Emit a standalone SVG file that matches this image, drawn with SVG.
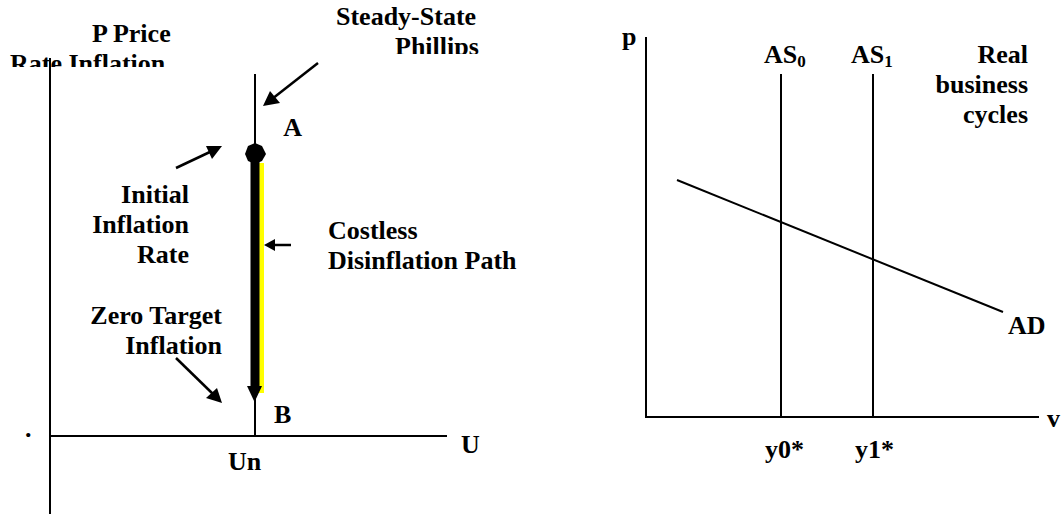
<svg xmlns="http://www.w3.org/2000/svg" width="1063" height="518" viewBox="0 0 1063 518">
<style>
text{font-family:"Liberation Serif","Times New Roman",serif;font-weight:bold;font-size:26px;fill:#000}
.ax{stroke:#000;stroke-width:2;fill:none}
.arr{stroke:#000;stroke-width:2.5;fill:none;marker-end:url(#ah)}
.sub{font-size:17px}
</style>
<defs>
<marker id="ah" markerWidth="8" markerHeight="8" refX="7" refY="4" orient="auto" markerUnits="userSpaceOnUse" viewBox="0 0 8 8">
</marker>
<clipPath id="c1"><rect x="0" y="0" width="240" height="67"/></clipPath>
<clipPath id="c2"><rect x="300" y="0" width="300" height="54"/></clipPath>
</defs>
<rect width="1063" height="518" fill="#fff"/>

<g id="left-chart">
<g id="left-labels">
<text x="92" y="42">P Price</text>
<text x="10" y="72" clip-path="url(#c1)">Rate Inflation</text>
<text x="336" y="25">Steady-State</text>
<text x="395" y="55" clip-path="url(#c2)">Phillips</text>
<text x="302" y="136" font-size="18" text-anchor="end">A</text>
<text x="189" y="203" text-anchor="end">Initial</text>
<text x="189" y="233" text-anchor="end">Inflation</text>
<text x="189" y="263" text-anchor="end">Rate</text>
<text x="328" y="239">Costless</text>
<text x="328" y="269">Disinflation Path</text>
<text x="222" y="324" text-anchor="end">Zero Target</text>
<text x="222" y="354" text-anchor="end">Inflation</text>
<text x="274" y="423">B</text>
<text x="461" y="453">U</text>
<text x="228" y="470">Un</text>
<text x="25" y="437">.</text>
</g>
<g id="left-axes">
<line class="ax" x1="50" y1="58" x2="50" y2="514"/>
<line class="ax" x1="49" y1="436" x2="447" y2="436"/>
<line class="ax" x1="255" y1="74" x2="255" y2="436"/>
</g>
<g id="disinflation-path">
<rect x="256" y="163" width="8" height="230" fill="#ffff00"/>
<rect x="250.5" y="154" width="9" height="234" fill="#000"/>
<polygon points="247,386 262,386 254.5,402" fill="#000"/>
<polygon points="255,143 262,146 266,154 262,161 255,164 248,161 245,154 248,146" fill="#000"/>
</g>
</g>

<g id="connectors">
<line x1="318" y1="63" x2="272" y2="99" stroke="#000" stroke-width="2.5"/>
<polygon points="263,106 270,91 280,103" fill="#000"/>
<line x1="176" y1="168" x2="212" y2="151" stroke="#000" stroke-width="2.5"/>
<polygon points="222,146 206,146 212,159" fill="#000"/>
<line x1="291" y1="245" x2="272" y2="245" stroke="#000" stroke-width="2.5"/>
<polygon points="264,245 275,239 275,251" fill="#000"/>
<line x1="176" y1="358" x2="214" y2="395" stroke="#000" stroke-width="2.5"/>
<polygon points="222,403 206,398 217,388" fill="#000"/>
</g>

<g id="right-chart">
<g id="right-axes">
<line class="ax" x1="646" y1="37" x2="646" y2="418"/>
<line class="ax" x1="645" y1="417" x2="1039" y2="417"/>
<line class="ax" x1="781" y1="74" x2="781" y2="417"/>
<line class="ax" x1="873" y1="74" x2="873" y2="417"/>
<line class="ax" x1="677" y1="180" x2="1003" y2="312"/>
</g>
<g id="right-labels">
<text x="622" y="45">p</text>
<text x="764" y="63">AS<tspan class="sub" dy="4">0</tspan></text>
<text x="851" y="63">AS<tspan class="sub" dy="4">1</tspan></text>
<text x="1028" y="63" text-anchor="end">Real</text>
<text x="1028" y="93" text-anchor="end">business</text>
<text x="1028" y="123" text-anchor="end">cycles</text>
<text x="1008" y="334">AD</text>
<text x="1047" y="427">v</text>
<text x="765" y="458">y0*</text>
<text x="855" y="458">y1*</text>
</g>
</g>
</svg>
